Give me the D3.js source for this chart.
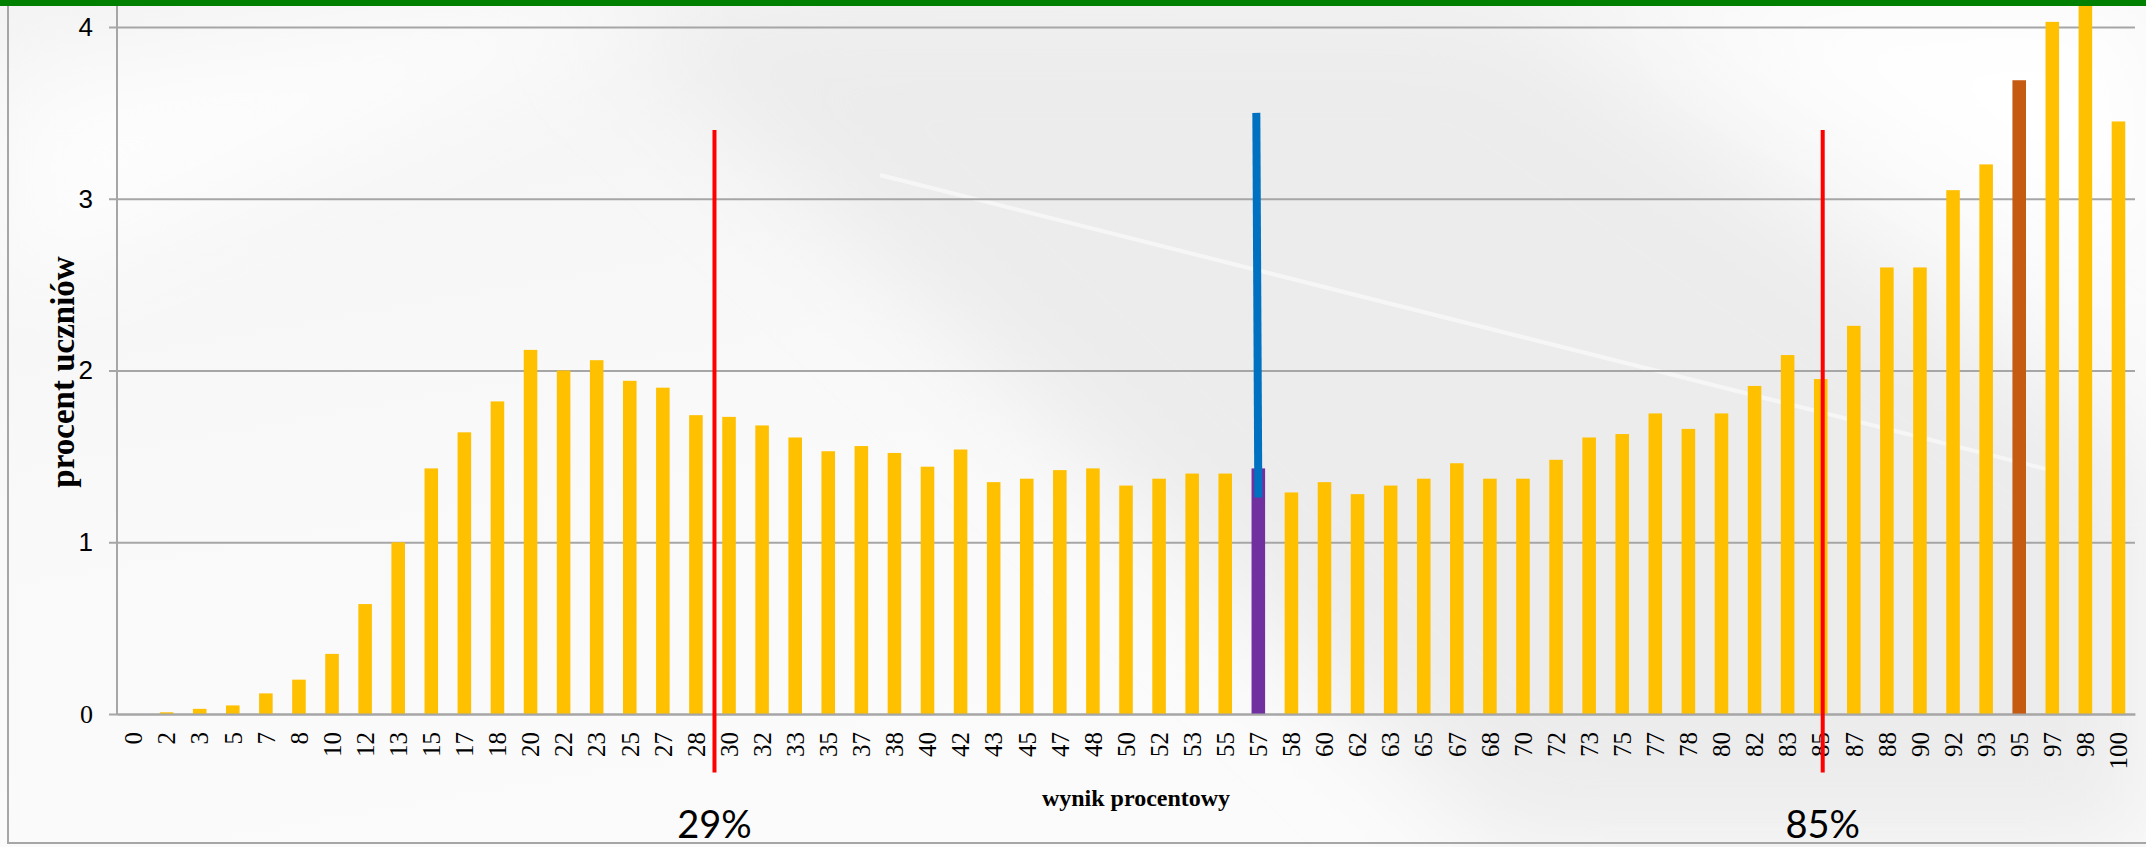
<!DOCTYPE html>
<html>
<head>
<meta charset="utf-8">
<script src="https://cdn.jsdelivr.net/npm/d3@7"></script>
<style>
body { margin: 0; background: #fff; }
svg { display: block; }
</style>
</head>
<body>
<script>
//Categories: percentage score (wynik procentowy)
var categories = ["0","2","3","5","7","8","10","12","13","15","17","18","20","22","23","25","27","28",
                  "30","32","33","35","37","38","40","42","43","45","47","48","50","52","53","55","57","58",
                  "60","62","63","65","67","68","70","72","73","75","77","78","80","82","83","85","87","88",
                  "90","92","93","95","97","98","100"];

//Percent of students per score
var values = [0, 0.01, 0.03, 0.05, 0.12, 0.2, 0.35, 0.64, 1.0, 1.43, 1.64, 1.82, 2.12, 2.0, 2.06, 1.94, 1.9, 1.74,
              1.73, 1.68, 1.61, 1.53, 1.56, 1.52, 1.44, 1.54, 1.35, 1.37, 1.42, 1.43, 1.33, 1.37, 1.4, 1.4, 1.43, 1.29,
              1.35, 1.28, 1.33, 1.37, 1.46, 1.37, 1.37, 1.48, 1.61, 1.63, 1.75, 1.66, 1.75, 1.91, 2.09, 1.95, 2.26, 2.6,
              2.6, 3.05, 3.2, 3.69, 4.03, 4.2, 3.45];

var yTicks = [0, 1, 2, 3, 4];

//Special bars
var barColors = {"57": "#7030A0", "95": "#C55A11"};

//Red threshold lines (29% sits between 28 and 30, 85% on its own bar)
var thresholds = [{label: "29%", from: "28", to: "30"}, {label: "85%", from: "85", to: "85"}];
var thresholdRange = [3.4, -0.34];

//Blue median line on 57
var medianCat = "57";
var medianRange = [3.5, 1.26];

//Width and height
var w = 2146;
var h = 847;

var svg = d3.select("body")
            .append("svg")
            .attr("width", w)
            .attr("height", h);

//Background: pale grey slide with soft diagonal streaks
var defs = svg.append("defs");
var bg = defs.append("linearGradient")
             .attr("id", "bg")
             .attr("x1", "0").attr("y1", "0")
             .attr("x2", "0.45").attr("y2", "1");
bg.append("stop").attr("offset", "0").attr("stop-color", "#f3f3f3");
bg.append("stop").attr("offset", "0.5").attr("stop-color", "#f9f9f9");
bg.append("stop").attr("offset", "1").attr("stop-color", "#fbfbfb");

defs.append("filter").attr("id", "blur")
    .append("feGaussianBlur").attr("stdDeviation", 50);

svg.append("rect")
   .attr("width", w).attr("height", h)
   .attr("fill", "url(#bg)");

svg.append("path")
   .attr("d", "M600,0 L1500,0 L2146,450 L2146,847 L1500,847 Z")
   .attr("fill", "#ececec")
   .attr("filter", "url(#blur)");

svg.append("path")
   .attr("d", "M1650,0 L2146,0 L2146,280 Z")
   .attr("fill", "#ffffff")
   .attr("filter", "url(#blur)");

svg.append("path")
   .attr("d", "M0,80 L500,0 L700,0 L0,300 Z")
   .attr("fill", "#fdfdfd")
   .attr("filter", "url(#blur)");

svg.append("path")
   .attr("d", "M880,175 L2050,470")
   .attr("stroke", "#ffffff")
   .attr("stroke-width", 4)
   .attr("opacity", 0.55);

//Frame
svg.append("path")
   .attr("d", "M8,6 L8,843 L2146,843")
   .attr("fill", "none")
   .attr("stroke", "#a6a6a6")
   .attr("stroke-width", 2);

//Scales
var x = d3.scaleBand()
          .domain(categories)
          .range([117, 2135])
          .paddingInner(0.59)
          .paddingOuter(0.295);

var y = d3.scaleLinear()
          .domain([0, 4])
          .range([714, 27]);

//Gridlines
svg.append("g")
   .attr("transform", "translate(117,0)")
   .call(d3.axisLeft(y).tickValues(yTicks).tickSize(-(2135 - 117)).tickFormat(""))
   .call(function(g) {
       g.select(".domain").remove();
       g.selectAll("line").attr("stroke", "#a6a6a6").attr("stroke-width", 2);
   });

//Y axis
svg.append("g")
   .attr("transform", "translate(117,0)")
   .call(d3.axisLeft(y).tickValues(yTicks).tickSize(8).tickPadding(16).tickFormat(d3.format("d")))
   .call(function(g) {
       g.select(".domain").attr("stroke", "#a6a6a6").attr("stroke-width", 2)
        .attr("d", "M0," + y(0) + "V0");
       g.selectAll("line").attr("stroke", "#a6a6a6").attr("stroke-width", 2);
       g.selectAll("text")
        .attr("fill", "#000")
        .style("font-size", "26px")
        .style("font-family", function(d) {
            return d === 0 ? "'Liberation Serif', serif" : "'Liberation Sans Narrow', 'Liberation Sans', sans-serif";
        });
   });

//Bars
svg.selectAll("rect.bar")
   .data(values)
   .enter()
   .append("rect")
   .attr("class", "bar")
   .attr("x", function(d, i) { return x(categories[i]); })
   .attr("width", x.bandwidth())
   .attr("y", function(d) { return y(d); })
   .attr("height", function(d) { return y(0) - y(d); })
   .attr("fill", function(d, i) { return barColors[categories[i]] || "#FFC000"; });

//X axis
svg.append("g")
   .attr("transform", "translate(0," + y(0) + ")")
   .call(d3.axisBottom(x).tickSize(0))
   .call(function(g) {
       g.select(".domain").attr("stroke", "#a6a6a6").attr("stroke-width", 2);
       g.selectAll("text")
        .attr("fill", "#000")
        .attr("y", 0)
        .attr("x", -18)
        .attr("dy", "0.35em")
        .attr("transform", "rotate(-90)")
        .style("text-anchor", "end")
        .style("font-size", "25px")
        .style("font-family", "'Liberation Serif', serif");
   });

//Threshold lines and labels
function midX(t) {
    return (x(t.from) + x(t.to)) / 2 + x.bandwidth() / 2 + 2;
}

svg.selectAll("line.threshold")
   .data(thresholds)
   .enter()
   .append("line")
   .attr("class", "threshold")
   .attr("x1", midX).attr("x2", midX)
   .attr("y1", y(thresholdRange[0]))
   .attr("y2", y(thresholdRange[1]))
   .attr("stroke", "#FF0000")
   .attr("stroke-width", 4);

svg.selectAll("text.threshold")
   .data(thresholds)
   .enter()
   .append("text")
   .attr("class", "threshold")
   .attr("x", midX)
   .attr("y", 838)
   .attr("text-anchor", "middle")
   .style("font-family", "Lato, sans-serif")
   .style("font-size", "38px")
   .attr("fill", "#000")
   .text(function(d) { return d.label; });

//Median line
svg.append("line")
   .attr("x1", x(medianCat) + x.bandwidth() / 2 - 2)
   .attr("x2", x(medianCat) + x.bandwidth() / 2)
   .attr("y1", y(medianRange[0]))
   .attr("y2", y(medianRange[1]))
   .attr("stroke", "#0070C0")
   .attr("stroke-width", 8);

//Axis titles
svg.append("text")
   .attr("transform", "translate(62,372) rotate(-90)")
   .attr("text-anchor", "middle")
   .attr("dy", "0.35em")
   .style("font-family", "'Liberation Serif', serif")
   .style("font-weight", "bold")
   .style("font-size", "33px")
   .text("procent uczniów");

svg.append("text")
   .attr("x", 1136)
   .attr("y", 806)
   .attr("text-anchor", "middle")
   .style("font-family", "'Liberation Serif', serif")
   .style("font-weight", "bold")
   .style("font-size", "24px")
   .text("wynik procentowy");

//Green band on top
svg.append("rect")
   .attr("width", w)
   .attr("height", 6)
   .attr("fill", "#008000");
</script>
</body>
</html>
